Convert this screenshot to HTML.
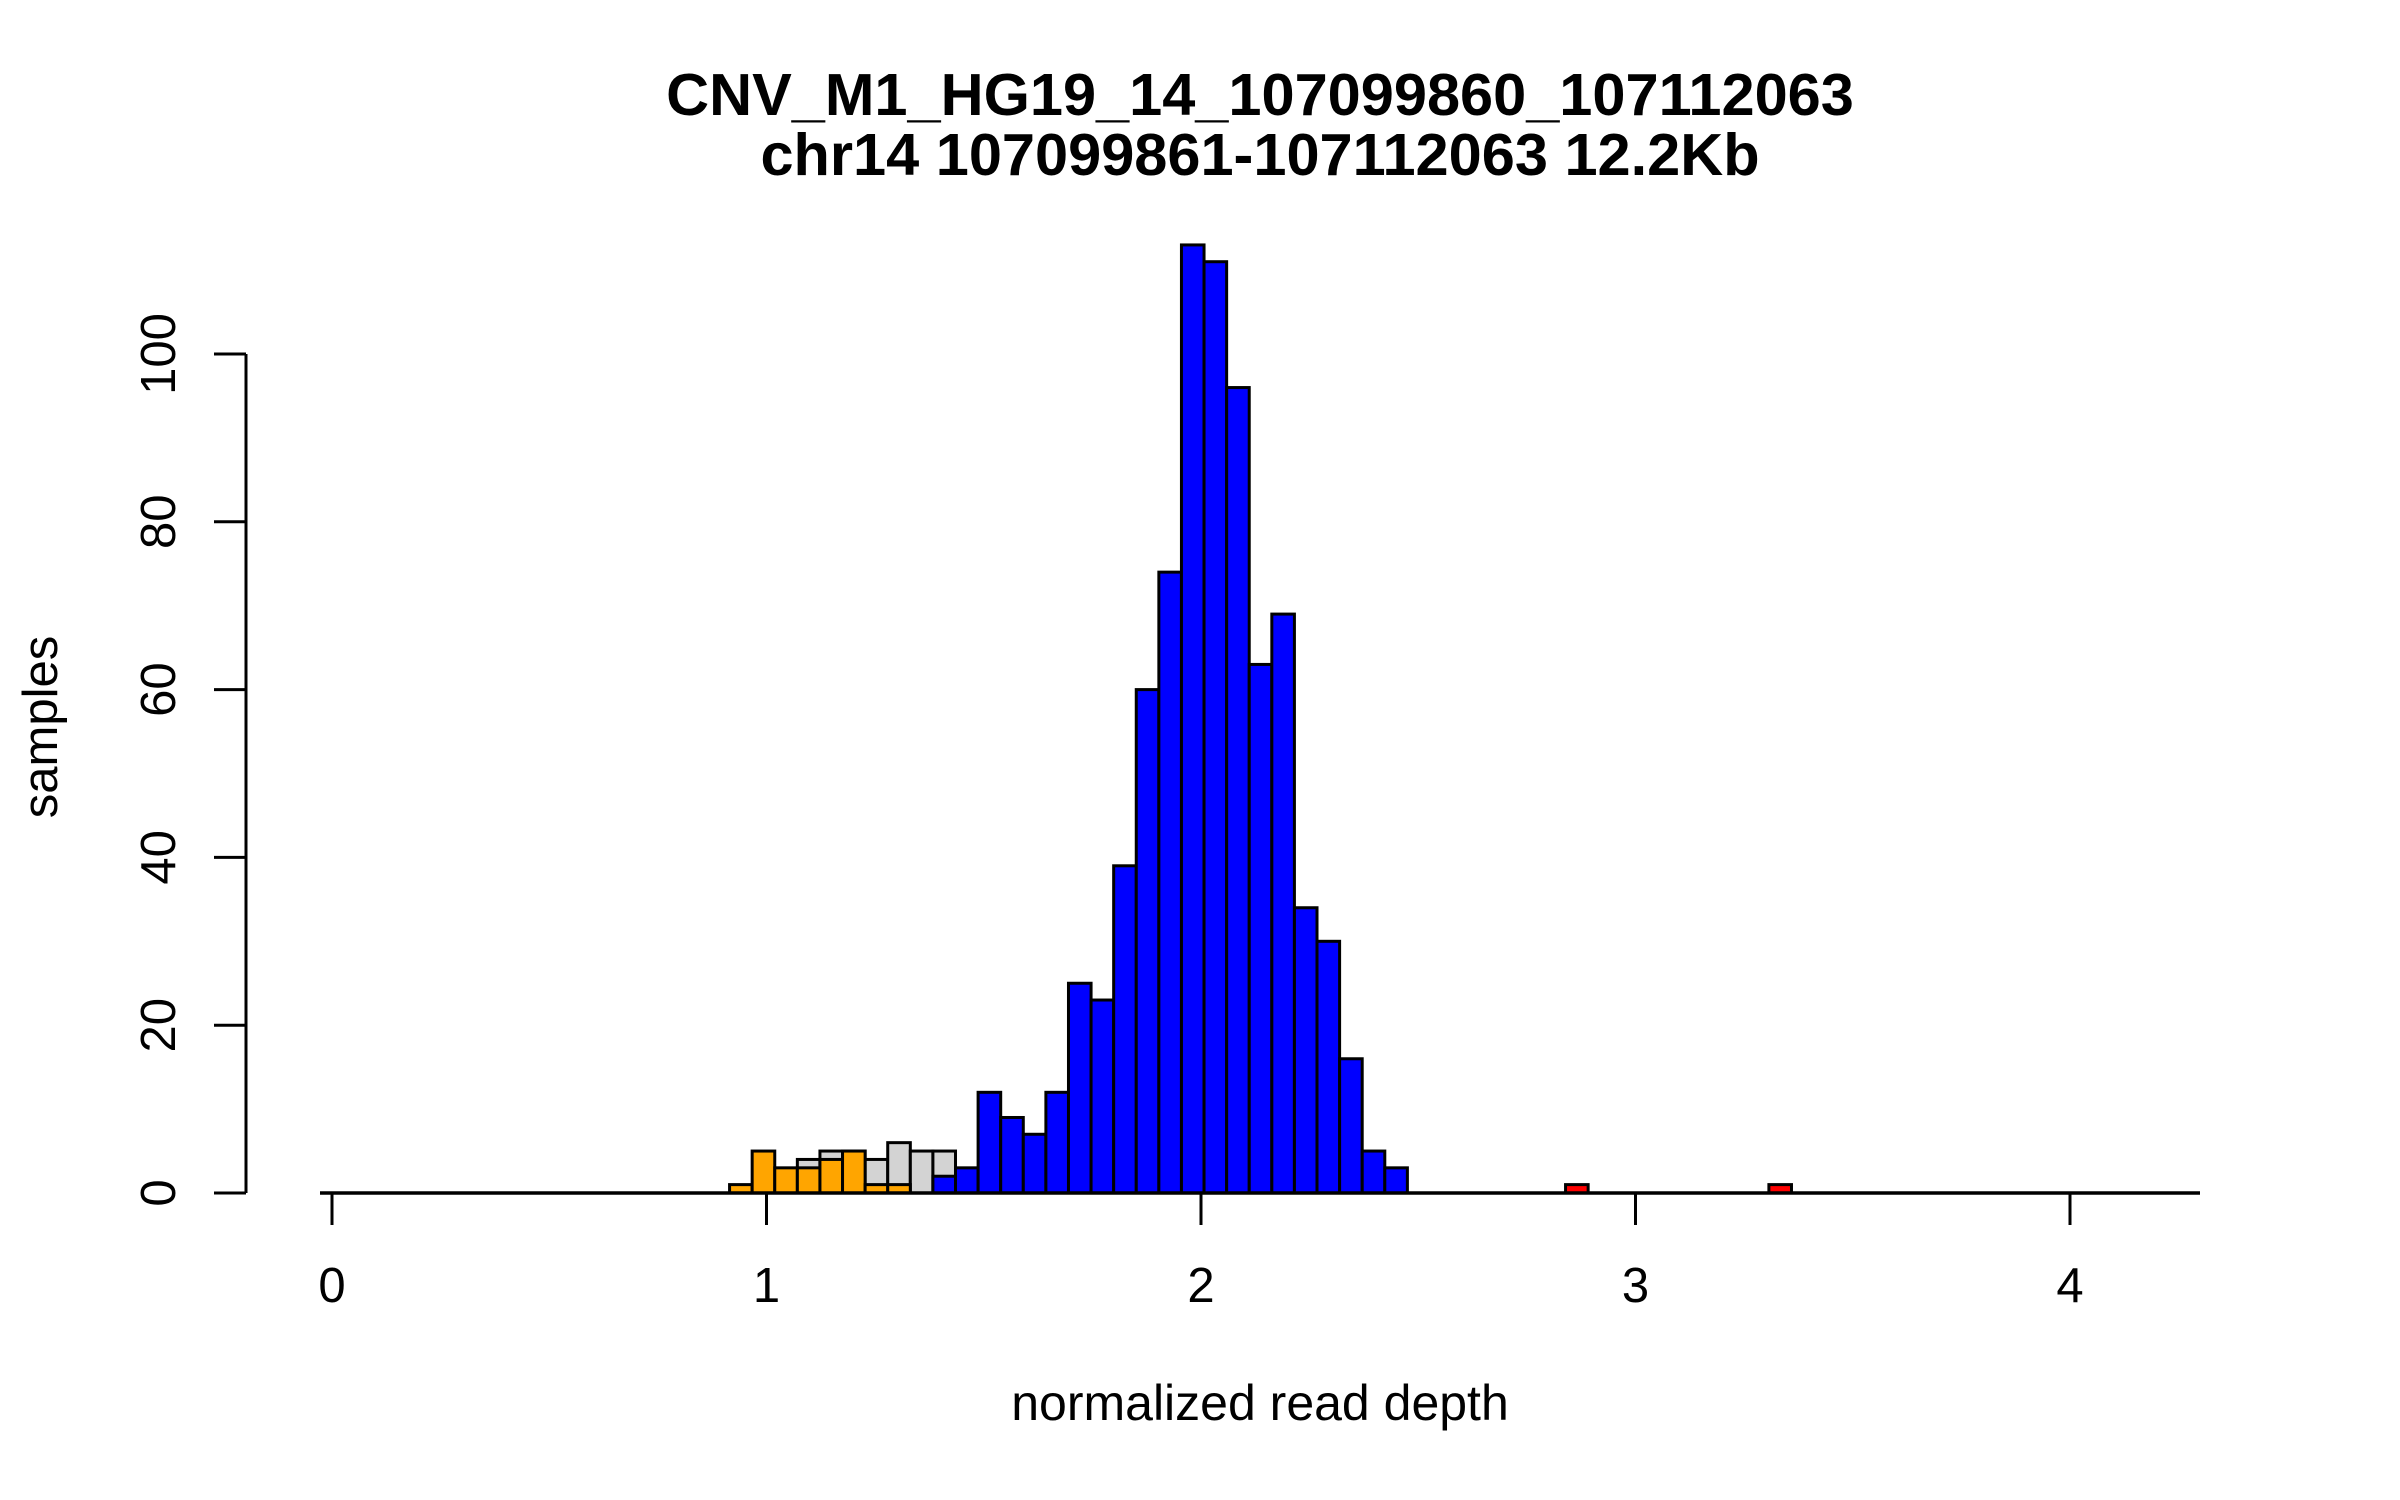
<!DOCTYPE html>
<html><head><meta charset="utf-8"><style>
html,body{margin:0;padding:0;background:#fff;}
svg{display:block;font-family:"Liberation Sans",Arial,sans-serif;}
</style></head><body>
<svg id="chart" width="2400" height="1500" viewBox="0 0 2400 1500" xmlns="http://www.w3.org/2000/svg">
<text x="1260" y="115" font-size="59.5" font-weight="bold" text-anchor="middle">CNV_M1_HG19_14_107099860_107112063</text>
<text x="1260" y="175" font-size="59.5" font-weight="bold" text-anchor="middle">chr14 107099861-107112063 12.2Kb</text>
<text x="1260" y="1420" font-size="50" text-anchor="middle">normalized read depth</text>
<text x="0" y="0" font-size="49" text-anchor="middle" transform="translate(57,727) rotate(-90)">samples</text>
<g id="bars"></g>
<g id="axes"></g>
</svg>
<script>
const binStart = 0.915;
const binWidth = 0.052;
const grayCounts = [0,0,0,4,5,5,4,6,5,5];
const orangeCounts = [1,5,3,3,4,5,1,1];
const blueCounts = [0,0,0,0,0,0,0,0,0,2,3,12,9,7,12,25,23,39,60,74,113,111,96,63,69,34,30,16,5,3];
const redCounts = [0,0,0,0,0,0,0,0,0,0,0,0,0,0,0,0,0,0,0,0,0,0,0,0,0,0,0,0,0,0,0,0,0,0,0,0,0,1,0,0,0,0,0,0,0,0,1];
const xTicks = [0,1,2,3,4];
const yTicks = [0,20,40,60,80,100];

const NS = "http://www.w3.org/2000/svg";
function xs(v){ return 332 + v*434.5; }
function ys(v){ return 1193 - v*8.39; }
const barsG = document.getElementById('bars');
const axesG = document.getElementById('axes');
function mk(tag, attrs, parent){
  const e = document.createElementNS(NS, tag);
  for (const k in attrs) e.setAttribute(k, attrs[k]);
  parent.appendChild(e); return e;
}
function drawSeries(counts, color, name){
  counts.forEach((c,i)=>{
    if (!c) return;
    const x0 = xs(binStart + i*binWidth), x1 = xs(binStart + (i+1)*binWidth);
    const r = mk('rect', {x:x0, y:ys(c), width:x1-x0, height:ys(0)-ys(c), fill:color, stroke:'#000', 'stroke-width':3}, barsG);
    
    
  });
}
drawSeries(grayCounts, '#d3d3d3', 'gray');
drawSeries(orangeCounts, '#ffa500', 'orange');
drawSeries(blueCounts, '#0000ff', 'blue');
drawSeries(redCounts, '#ff0000', 'red');

const base = mk('line', {x1:320, x2:2200, y1:ys(0), y2:ys(0), stroke:'#000', 'stroke-width':3.5}, axesG);



const xl = mk('line', {x1:xs(xTicks[0]), x2:xs(xTicks[xTicks.length-1]), y1:ys(0), y2:ys(0), stroke:'#000', 'stroke-width':3}, axesG);


xTicks.forEach(t=>{
  const l = mk('line', {x1:xs(t), x2:xs(t), y1:ys(0), y2:ys(0)+32, stroke:'#000', 'stroke-width':3}, axesG);
  
  
  const tx = mk('text', {x:xs(t), y:1302, 'font-size':49, 'text-anchor':'middle'}, axesG);
  tx.textContent = t;
  
  
});
const yl = mk('line', {x1:246, x2:246, y1:ys(yTicks[0]), y2:ys(yTicks[yTicks.length-1]), stroke:'#000', 'stroke-width':3}, axesG);


yTicks.forEach(t=>{
  const l = mk('line', {x1:214, x2:246, y1:ys(t), y2:ys(t), stroke:'#000', 'stroke-width':3}, axesG);
  
  
  const tx = mk('text', {x:0, y:0, 'font-size':49, 'text-anchor':'middle', transform:'translate(175,'+ys(t)+') rotate(-90)'}, axesG);
  tx.textContent = t;
  
  
});
</script>
</body></html>
